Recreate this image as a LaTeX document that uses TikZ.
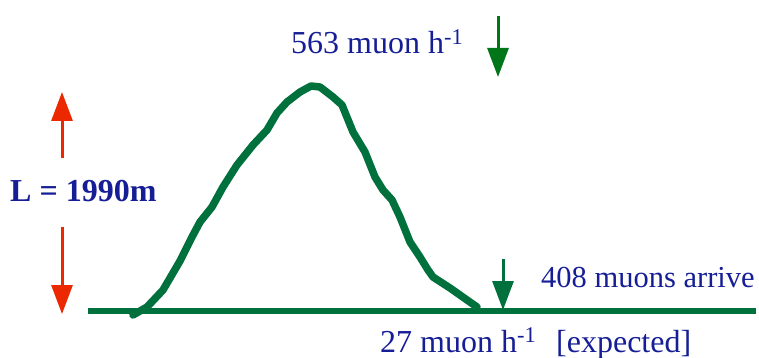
\documentclass[tikz,border=0pt]{standalone}
\usepackage{fontspec}
\setmainfont{Liberation Serif}
\usepackage{xcolor}
\definecolor{curvegreen}{RGB}{0, 112, 60}
\definecolor{arrowgreen}{RGB}{0, 118, 24}
\definecolor{labelblue}{RGB}{22, 30, 150}
\definecolor{lengthred}{RGB}{236, 40, 0}
\usepackage{tikz}
\usetikzlibrary{arrows.meta}

\begin{document}
\begin{tikzpicture}[x=1pt, y=-1pt, >={Triangle[length=29pt,width=21pt]},
    label/.style={anchor=base west, inner sep=0pt, text=labelblue, font=\fontsize{32}{38}\selectfont},
    flux/.style={->, line width=3pt},
    track/.style={line width=7.5pt, curvegreen, line join=round, line cap=round}]
    \useasboundingbox (0,0) rectangle (759,358);

    % Ground line
    \coordinate (G1) at (88,311);
    \coordinate (G2) at (756,311);
    \draw[line width=5.5pt, curvegreen] (G1) -- (G2);

    % Muon profile
    \draw[track] (133,315) -- (147,307) -- (163,290) -- (180,261) -- (192,237)
        -- (200,222) -- (212,207) -- (223,187) -- (237,165) -- (253,145)
        -- (267,130) -- (277,113) -- (287,102) -- (300,92) -- (311,86)
        -- (320,87) -- (333,97) -- (342,105) -- (353,132) -- (365,152)
        -- (375,177) -- (383,190) -- (392,200) -- (400,217) -- (410,242)
        -- (420,257) -- (428,270) -- (433,277) -- (450,288) -- (467,300)
        -- (477,307);

    % Length L
    \node[label, font=\fontsize{32}{38}\selectfont\bfseries] (len) at (10,201) {L = 1990m};
    \coordinate (Lup0) at (62,158);
    \coordinate (Lup1) at (62,92);
    \coordinate (Ldn0) at (62,227);
    \coordinate (Ldn1) at (62,314);
    \draw[flux, lengthred] (Lup0) -- (Lup1);
    \draw[flux, lengthred] (Ldn0) -- (Ldn1);

    % Rates
    \node[label] (top) at (291,54) {563 muon h\textsuperscript{-1}};
    \coordinate (T0) at (498,16);
    \coordinate (T1) at (498,77);
    \draw[flux, arrowgreen] (T0) -- (T1);

    \coordinate (B0) at (503,259);
    \coordinate (B1) at (503,310);
    \draw[flux, curvegreen] (B0) -- (B1);
    \node[label, font=\fontsize{30.5}{36}\selectfont] (arrive) at (541,287) {408 muons arrive};
    \node[label] (rate) at (380,352) {27 muon h\textsuperscript{-1}};
    \node[label] (expected) at (556,352) {[expected]};
\end{tikzpicture}
\end{document}
